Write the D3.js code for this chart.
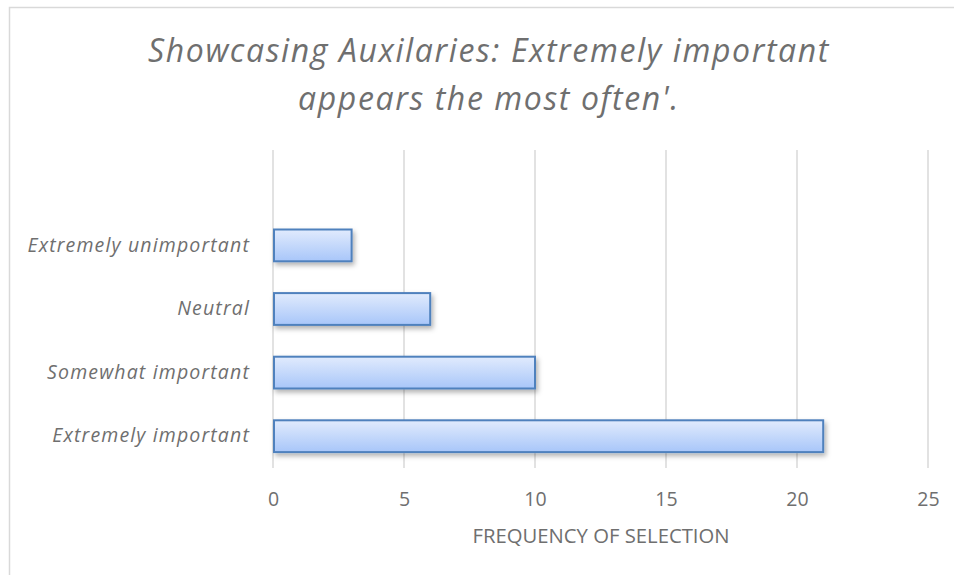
<!DOCTYPE html>
<html>
<head>
<meta charset="utf-8">
<script src="https://cdn.jsdelivr.net/npm/d3@7"></script>
<style>
  html, body { margin: 0; padding: 0; background: #fff; }
  svg { display: block; }
  text { font-family: "Open Sans", "Noto Sans", sans-serif; fill: #6f6f6f; }
</style>
</head>
<body>
<svg id="chart" width="954" height="575"></svg>
<script>
// Survey responses (bottom to top as drawn)
const categories = ["Extremely important", "Somewhat important", "Neutral", "Extremely unimportant"];
const frequency = [21, 10, 6, 3];
const xTicks = [0, 5, 10, 15, 20, 25];
const titleLines = ["Showcasing Auxilaries: Extremely important", "appears the most often'."];
const xAxisTitle = "FREQUENCY OF SELECTION";

const svg = d3.select("#chart");
const W = 954, H = 575;
const textColor = "#6f6f6f";

// Chart frame
svg.append("rect")
  .attr("x", 9.5).attr("y", 7.5)
  .attr("width", W).attr("height", H)
  .attr("fill", "#fff").attr("stroke", "#d9d9d9").attr("stroke-width", 1.5);

const plot = { left: 273, right: 928, top: 150, bottom: 468 };
const step = (plot.bottom - plot.top) / 5;

const x = d3.scaleLinear().domain([0, 25]).range([plot.left, plot.right]);
const y = d3.scaleBand()
  .domain(categories)
  .range([plot.bottom, plot.bottom - step * categories.length])
  .paddingInner(0.5).paddingOuter(0.25);

// Defs: bar gradient and soft shadow
const defs = svg.append("defs");
const grad = defs.append("linearGradient").attr("id", "barFill")
  .attr("x1", 0).attr("y1", 0).attr("x2", 0).attr("y2", 1);
grad.append("stop").attr("offset", "0%").attr("stop-color", "#e1ebfd");
grad.append("stop").attr("offset", "100%").attr("stop-color", "#a8c6f9");
const shadow = defs.append("filter").attr("id", "shadow")
  .attr("x", "-10%").attr("y", "-30%").attr("width", "120%").attr("height", "180%");
shadow.append("feDropShadow").attr("dx", 2).attr("dy", 3).attr("stdDeviation", 2.5)
  .attr("flood-color", "#000").attr("flood-opacity", 0.3);

// Vertical gridlines
svg.append("g").selectAll("line").data(xTicks).join("line")
  .attr("x1", d => x(d)).attr("x2", d => x(d))
  .attr("y1", plot.top).attr("y2", plot.bottom)
  .attr("stroke", "#d9d9d9").attr("stroke-width", 1.5);

// Bars
svg.append("g").selectAll("rect").data(categories).join("rect")
  .attr("x", x(0) + 1)
  .attr("y", d => y(d))
  .attr("width", (d, i) => x(frequency[i]) - x(0) - 1)
  .attr("height", y.bandwidth())
  .attr("fill", "url(#barFill)")
  .attr("stroke", "#4f81bd").attr("stroke-width", 2)
  .attr("filter", "url(#shadow)");

// X axis tick labels
const xAxis = svg.append("g")
  .attr("transform", `translate(0,${plot.bottom})`)
  .call(d3.axisBottom(x).tickValues(xTicks).tickSize(0).tickPadding(24));
xAxis.select(".domain").remove();
xAxis.selectAll("text").attr("font-size", 19.5).attr("fill", textColor)
  .style("font-family", "'Open Sans', sans-serif");

// Category labels
const yAxis = svg.append("g")
  .attr("transform", `translate(${plot.left},0)`)
  .call(d3.axisLeft(y).tickSize(0).tickPadding(23));
yAxis.select(".domain").remove();
yAxis.selectAll("text").attr("font-size", 19.5).attr("font-style", "italic").attr("fill", textColor)
  .attr("letter-spacing", 1.15)
  .style("font-family", "'Open Sans', sans-serif");

// Axis title
svg.append("text")
  .attr("x", 601).attr("y", 543)
  .attr("text-anchor", "middle").attr("font-size", 20.3)
  .attr("fill", textColor)
  .text(xAxisTitle);

// Chart title
svg.append("g").selectAll("text").data(titleLines).join("text")
  .attr("x", 489).attr("y", (d, i) => 62 + i * 48)
  .attr("text-anchor", "middle").attr("font-size", 32).attr("font-style", "italic")
  .attr("letter-spacing", 1.6)
  .attr("fill", "#767676")
  .text(d => d);
</script>
</body>
</html>
